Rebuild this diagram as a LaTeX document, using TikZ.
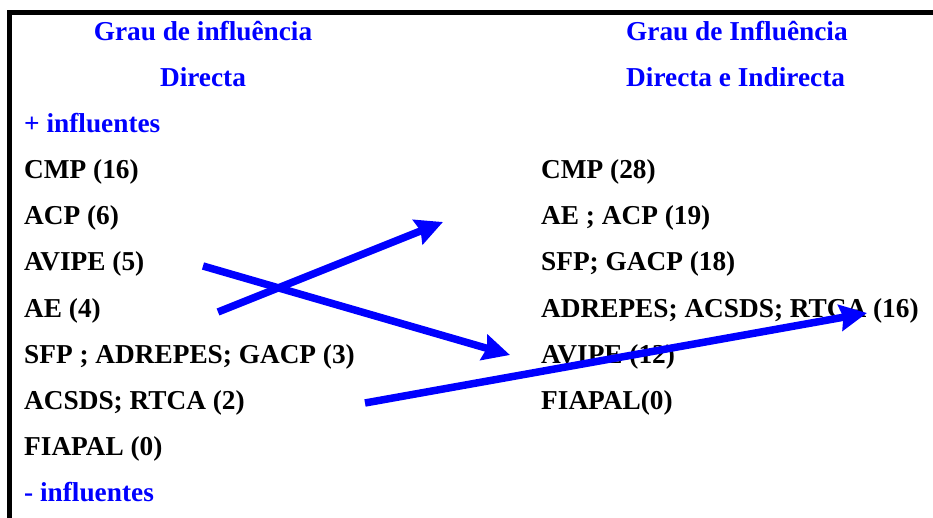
\documentclass[tikz,border=0pt]{standalone}
\usepackage{fontspec}
\setmainfont{Liberation Serif}
\usepackage{xcolor}
\usetikzlibrary{arrows.meta,positioning}
\definecolor{pureblue}{RGB}{0,0,255}

\begin{document}
\begin{tikzpicture}[
      x=1pt,y=-1pt,
      every node/.style={inner sep=0pt,anchor=base west,font=\fontsize{27.3}{30}\selectfont\bfseries},
      nextrow/.style={below=46pt of #1.base west,anchor=base west},
      head/.style={text=pureblue},
      link/.style={-{Stealth[length=27pt,width=26pt,inset=3pt]},line width=7.5pt,pureblue},
      frame/.style={line width=5pt}
    ]
      \useasboundingbox (0,0) rectangle (933,518);
      \draw[frame] (933,12.5) -- (9.5,12.5) -- (9.5,518);
      % direct influence
      \node[head,anchor=base] (lgrau) at (203,41) {Grau de influência};
      \node[head,below=46pt of lgrau.base,anchor=base] (ldir) {Directa};
      \node[head] (plus) at (24,133) {+ influentes};
      \node[nextrow=plus] (lcmp) {CMP (16)};
      \node[nextrow=lcmp] (lacp) {ACP (6)};
      \node[nextrow=lacp] (lavipe) {AVIPE (5)};
      \node[nextrow=lavipe] (lae) {AE (4)};
      \node[nextrow=lae] (lsfp) {SFP ; ADREPES; GACP (3)};
      \node[nextrow=lsfp] (lacsds) {ACSDS; RTCA (2)};
      \node[nextrow=lacsds] (lfiapal) {FIAPAL (0)};
      \node[head,nextrow=lfiapal] (minus) {- influentes};
      % direct and indirect influence
      \node[head] (rgrau) at (626,41) {Grau de Influência};
      \node[head,nextrow=rgrau] (rdir) {Directa e Indirecta};
      \node (rcmp) at (541,179) {CMP (28)};
      \node[nextrow=rcmp] (rae) {AE ; ACP (19)};
      \node[nextrow=rae] (rsfp) {SFP; GACP (18)};
      \node[nextrow=rsfp] (radrepes) {ADREPES; ACSDS; RTCA (16)};
      \node[nextrow=radrepes] (ravipe) {AVIPE (12)};
      \node[nextrow=ravipe] (rfiapal) {FIAPAL(0)};
      % shifts
      \coordinate (aefrom) at (218,312);
      \coordinate (aeto) at (443,222);
      \coordinate (avipefrom) at (203,266);
      \coordinate (avipeto) at (510,355);
      \coordinate (rtcafrom) at (365,403);
      \coordinate (rtcato) at (867,313);
      \draw[link] (aefrom) -- (aeto);
      \draw[link] (avipefrom) -- (avipeto);
      \draw[link] (rtcafrom) -- (rtcato);
    \end{tikzpicture}
\end{document}
